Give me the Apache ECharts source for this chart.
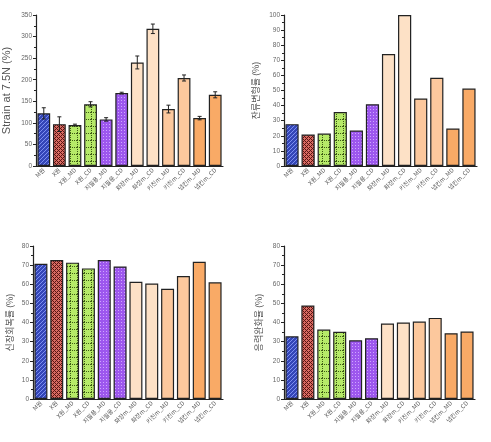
<!DOCTYPE html>
<html><head><meta charset="utf-8">
<script src="https://cdn.jsdelivr.net/npm/echarts@6/dist/echarts.min.js"></script>
<style>html,body{margin:0;padding:0;background:#fff}#c{width:491px;height:442px}</style>
</head><body><div id="c"></div>
<script>
var categories = ['M원','X원','X원_MD','X원_CD','지필용_MD','지필용_CD','화장m_MD','화장m_CD','키친m_MD','키친m_CD','냅킨m_MD','냅킨m_CD'];
var strainValues = [122, 97, 95, 143, 108, 169, 240, 318, 132, 204, 111, 165];
var strainErrors = [13, 17, 2, 6, 4, 2, 15, 11, 9, 7, 4, 7];
var residualValues = [27.7, 20.8, 21.5, 35.8, 23.5, 40.9, 74.1, 100, 44.7, 58.4, 24.8, 51.3];
var recoveryValues = [70.7, 72.7, 71.3, 68.3, 72.7, 69.3, 61.3, 60.4, 57.6, 64.3, 71.8, 61.0];
var relaxValues = [32.8, 48.9, 36.3, 35.1, 30.7, 31.8, 39.5, 40.0, 40.5, 42.4, 34.4, 35.3];
var yTitles = ['Strain at 7.5N (%)', '잔류변형률 (%)', '신장회복률 (%)', '응력완화율 (%)'];

function mk(w, h, draw){var c=document.createElement('canvas');c.width=w;c.height=h;var g=c.getContext('2d');draw(g);return {image:c,repeat:'repeat'};}
var blue = mk(4,4,function(g){g.fillStyle='#3446b8';g.fillRect(0,0,4,4);g.fillStyle='#7d8ff0';for(var i=0;i<4;i++){g.fillRect(i,3-i,1,1);}});
var red = mk(4,4,function(g){g.fillStyle='#d96b63';g.fillRect(0,0,4,4);g.fillStyle='#5a1512';g.fillRect(0,0,1,1);g.fillRect(2,2,1,1);g.fillRect(1,1,1,1);g.fillRect(3,3,1,1);g.fillRect(3,1,1,1);g.fillRect(1,3,1,1);});
var green = mk(7,7,function(g){g.fillStyle='#b6ea68';g.fillRect(0,0,7,7);g.fillStyle='#3d5a14';for(var i=0;i<7;i+=2){g.fillRect(i,0,1,1);g.fillRect(0,i,1,1);}});
var purple = mk(3,3,function(g){g.fillStyle='#9d57ee';g.fillRect(0,0,3,3);g.fillStyle='#cfa6ff';g.fillRect(1,1,1,1);});
var fills = [blue, red, green, green, purple, purple, '#fde1c6', '#fde1c6', '#fcc89d', '#fcc89d', '#f9aa66', '#f9aa66'];

var grids = [
  {left:33, top:15, width:190, height:151},
  {left:284, top:15, width:193, height:151},
  {left:33, top:246, width:190, height:153},
  {left:284, top:246, width:191, height:153}
];
var yCfg = [
  {max:350, interval:50, gap:24},
  {max:100, interval:10, gap:24},
  {max:80, interval:10, gap:19},
  {max:80, interval:10, gap:21}
];
var datasets = [strainValues, residualValues, recoveryValues, relaxValues];
var font = 'Liberation Sans, Arial, Noto Sans CJK KR, sans-serif';

var xAxis = [], yAxis = [], series = [];
grids.forEach(function(g, i){
  xAxis.push({type:'category', gridIndex:i, data:categories,
    axisLine:{lineStyle:{color:'#222', width:1.2}}, axisTick:{show:false},
    axisLabel:{rotate:45, fontSize:6, color:'#555', interval:0, margin:3, fontFamily:'Noto Sans CJK KR, sans-serif'}});
  yAxis.push({type:'value', gridIndex:i, min:0, max:yCfg[i].max, interval:yCfg[i].interval,
    name:yTitles[i], nameLocation:'middle', nameGap:yCfg[i].gap,
    nameTextStyle:{fontSize: i===0?11:9, color:'#555', fontFamily: i===0?font:'Noto Sans CJK KR, sans-serif'},
    axisLine:{show:true, lineStyle:{color:'#222', width:1.2}},
    axisTick:{show:true, length:3, lineStyle:{color:'#222'}},
    minorTick:{show:true, splitNumber:2, length:2, lineStyle:{color:'#222'}},
    splitLine:{show:false},
    axisLabel:{fontSize:6.5, color:'#666', margin:4, fontFamily:font}});
  series.push({type:'bar', xAxisIndex:i, yAxisIndex:i, barCategoryGap:'18%',
    data: datasets[i].map(function(v, k){return {value:v, itemStyle:{color:fills[k], borderColor:'#222', borderWidth:1.2}};}),
    silent:true});
});

series.push({type:'custom', xAxisIndex:0, yAxisIndex:0, silent:true, z:10,
  data: strainValues.map(function(v,k){return [k, v, strainErrors[k]];}),
  renderItem:function(params, api){
    var x = api.value(0), v = api.value(1), e = api.value(2);
    var hi = api.coord([x, v+e]), lo = api.coord([x, v-e]);
    var s = {stroke:'#222', lineWidth:1};
    return {type:'group', children:[
      {type:'line', shape:{x1:hi[0], y1:hi[1], x2:lo[0], y2:lo[1]}, style:s},
      {type:'line', shape:{x1:hi[0]-2, y1:hi[1], x2:hi[0]+2, y2:hi[1]}, style:s},
      {type:'line', shape:{x1:lo[0]-2, y1:lo[1], x2:lo[0]+2, y2:lo[1]}, style:s}
    ]};
  }});

var chart = echarts.init(document.getElementById('c'), null, {renderer:'canvas'});
chart.setOption({animation:false, backgroundColor:'#fff', grid:grids, xAxis:xAxis, yAxis:yAxis, series:series});
</script></body></html>
